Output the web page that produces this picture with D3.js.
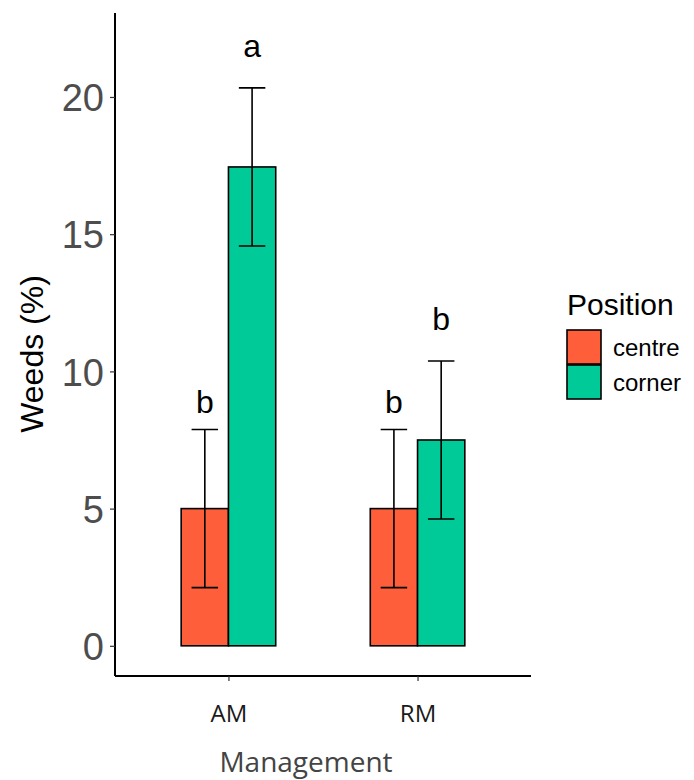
<!DOCTYPE html>
<html>
<head>
<meta charset="utf-8">
<script src="https://cdn.jsdelivr.net/npm/d3@7"></script>
<style>
  html, body { margin: 0; padding: 0; background: #fff; }
  svg { display: block; }
</style>
</head>
<body>
<div id="chart"></div>
<script>
// data
var managements = ["AM", "RM"];
var positions = ["centre", "corner"];
var weeds = [5, 17.45, 5, 7.5];          // AM-centre, AM-corner, RM-centre, RM-corner
var weedsErr = [2.88, 2.88, 2.88, 2.88];
var letters = ["b", "a", "b", "b"];
var letterY = [8.5, 21.45, 8.5, 11.5];   // where the letters sit, in %
var yTicks = [0, 5, 10, 15, 20];
var colours = ["#FF5E3B", "#00CB98"];

var width = 694, height = 780;
// plot panel edges ("top" is taken by window.top, so prefix them)
var panelLeft = 115, panelRight = 531, panelTop = 13, panelBottom = 676;

var svg = d3.select("#chart")
  .append("svg")
  .attr("width", width)
  .attr("height", height);

svg.append("rect").attr("width", width).attr("height", height).attr("fill", "#fff");

var y = d3.scaleLinear().domain([-1.1, 23.06]).range([panelBottom, panelTop]);
var x = d3.scalePoint().domain(managements).range([panelLeft, panelRight]).padding(0.6);
var dodge = d3.scaleBand().domain(positions)
  .range([-x.step() * 0.25, x.step() * 0.25]);
var colour = d3.scaleOrdinal().domain(positions).range(colours);

var rows = [];
managements.forEach(function (m, i) {
  positions.forEach(function (p, j) {
    var k = i * positions.length + j;
    rows.push({ m: m, p: p, v: weeds[k], e: weedsErr[k], lab: letters[k], ly: letterY[k] });
  });
});

function cx(d) { return x(d.m) + dodge(d.p) + dodge.bandwidth() / 2; }

// bars
svg.append("g").selectAll("rect").data(rows).join("rect")
  .attr("x", function (d) { return x(d.m) + dodge(d.p); })
  .attr("y", function (d) { return y(d.v); })
  .attr("width", dodge.bandwidth())
  .attr("height", function (d) { return y(0) - y(d.v); })
  .attr("fill", function (d) { return colour(d.p); })
  .attr("stroke", "#000")
  .attr("stroke-width", 1.6);

// error bars
var capHalf = dodge.bandwidth() * 0.28;
svg.append("g").attr("stroke", "#000").attr("stroke-width", 1.6).attr("fill", "none")
  .selectAll("path").data(rows).join("path")
  .attr("d", function (d) {
    var c = cx(d), lo = y(d.v - d.e), hi = y(d.v + d.e);
    return "M" + (c - capHalf) + "," + hi + "H" + (c + capHalf) +
      "M" + c + "," + hi + "V" + lo +
      "M" + (c - capHalf) + "," + lo + "H" + (c + capHalf);
  });

// letters
svg.append("g").selectAll("text").data(rows).join("text")
  .attr("x", cx)
  .attr("y", function (d) { return y(d.ly); })
  .attr("text-anchor", "middle")
  .attr("font-family", "Liberation Sans, Arial, sans-serif")
  .attr("font-size", 32)
  .attr("fill", "#000")
  .text(function (d) { return d.lab; });

// y axis
var yAxis = svg.append("g")
  .attr("transform", "translate(" + panelLeft + ",0)")
  .call(d3.axisLeft(y).tickValues(yTicks).tickSize(5).tickPadding(6));
yAxis.select(".domain").attr("d", "M0," + panelTop + "V" + panelBottom).attr("stroke", "#000").attr("stroke-width", 2);
yAxis.selectAll(".tick line").attr("stroke", "#333").attr("stroke-width", 1.2);
yAxis.selectAll(".tick text")
  .attr("font-family", "Liberation Sans, Arial, sans-serif")
  .attr("font-size", 38)
  .attr("fill", "#4D4D4D")
  .attr("dy", "0.36em");

// x axis
var xAxis = svg.append("g")
  .attr("transform", "translate(0," + panelBottom + ")")
  .call(d3.axisBottom(x).tickSize(5).tickPadding(0));
xAxis.select(".domain").attr("d", "M" + panelLeft + ",0H" + panelRight).attr("stroke", "#000").attr("stroke-width", 2);
xAxis.selectAll(".tick line").attr("stroke", "#333").attr("stroke-width", 1.2);
xAxis.selectAll(".tick text")
  .attr("font-family", "Open Sans, sans-serif")
  .attr("font-size", 24)
  .attr("fill", "#1a1a1a")
  .attr("dy", null)
  .attr("y", 46);

// axis titles
svg.append("text")
  .attr("transform", "translate(43,354) rotate(-90)")
  .attr("text-anchor", "middle")
  .attr("font-family", "Liberation Sans, Arial, sans-serif")
  .attr("font-size", 32)
  .attr("fill", "#000")
  .text("Weeds (%)");

svg.append("text")
  .attr("x", 306)
  .attr("y", 772)
  .attr("text-anchor", "middle")
  .attr("font-family", "Open Sans, sans-serif")
  .attr("font-size", 28)
  .attr("fill", "#444")
  .text("Management");

// legend
var legend = svg.append("g").attr("transform", "translate(567,315)");
legend.append("text")
  .attr("font-family", "Liberation Sans, Arial, sans-serif")
  .attr("font-size", 30)
  .attr("fill", "#000")
  .text("Position");
var keys = legend.selectAll("g.key").data(positions).join("g")
  .attr("class", "key")
  .attr("transform", function (d, i) { return "translate(0," + (15 + i * 35) + ")"; });
keys.append("rect")
  .attr("width", 34).attr("height", 34)
  .attr("fill", function (d) { return colour(d); })
  .attr("stroke", "#000").attr("stroke-width", 1.6);
keys.append("text")
  .attr("x", 46).attr("y", 17).attr("dy", "0.36em")
  .attr("font-family", "Liberation Sans, Arial, sans-serif")
  .attr("font-size", 24)
  .attr("fill", "#000")
  .text(function (d) { return d; });
</script>
</body>
</html>
